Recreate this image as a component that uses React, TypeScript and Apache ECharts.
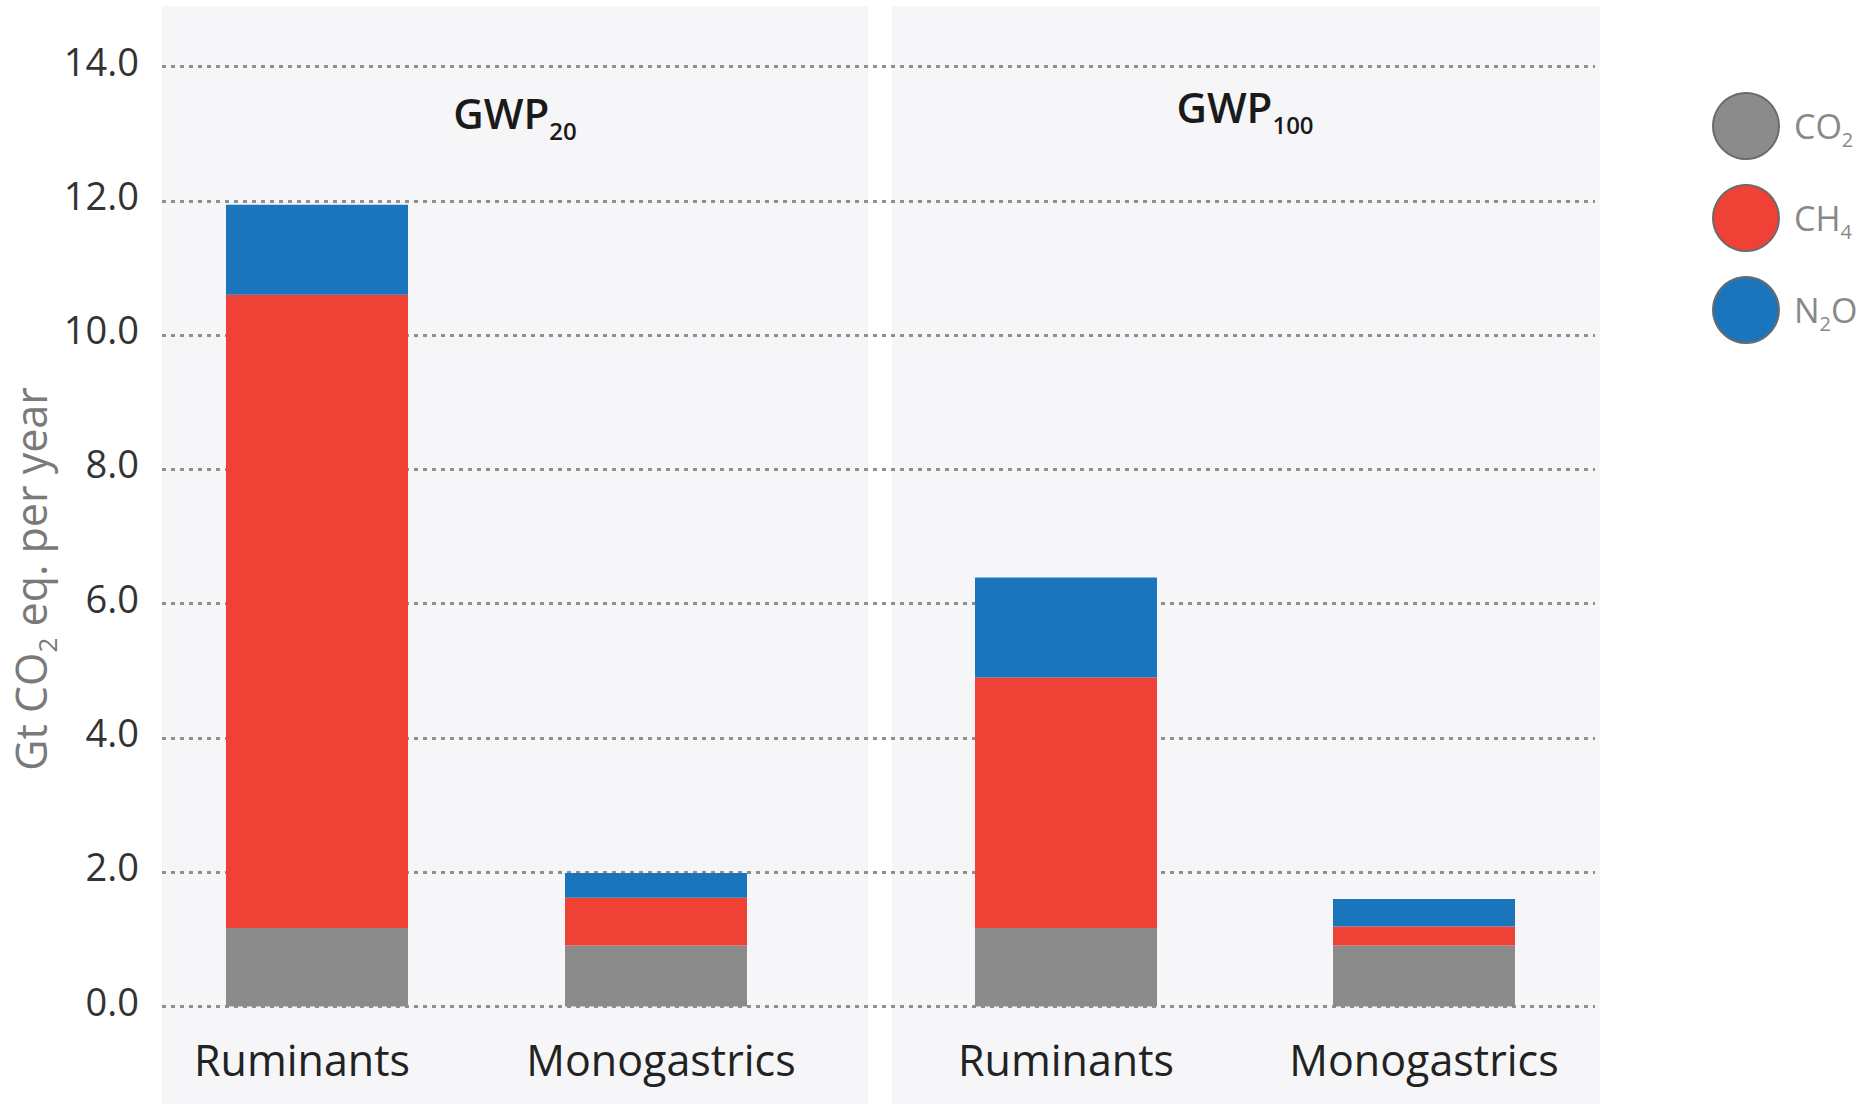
import React, { useEffect, useRef } from "react";
import * as echarts from "echarts";

const categories = ["Ruminants", "Monogastrics"];
const gasNames = ["CO2", "CH4", "N2O"];
const gasColors = ["#8a8b8a", "#ef4136", "#1b75bc"];

// GWP20 panel
const co2Gwp20 = [1.17, 0.91];
const ch4Gwp20 = [9.43, 0.71];
const n2oGwp20 = [1.34, 0.37];
// GWP100 panel
const co2Gwp100 = [1.17, 0.91];
const ch4Gwp100 = [3.73, 0.28];
const n2oGwp100 = [1.49, 0.41];

const yTickLabels = ["0.0", "2.0", "4.0", "6.0", "8.0", "10.0", "12.0", "14.0"];
const yMin = 0;
const yMax = 14;
const yStep = 2;

const FONT = "'Open Sans', 'Noto Sans', sans-serif";

const legendRich: Record<string, string> = {
  CO2: "{f|CO}{s|2}",
  CH4: "{f|CH}{s|4}",
  N2O: "{f|N}{s|2}{t|O}",
};

export default function App() {
  const ref = useRef<HTMLDivElement>(null);

  useEffect(() => {
    document.body.style.margin = "0";
    if (!ref.current) return;
    const chart = echarts.init(ref.current, undefined, { renderer: "svg" });

    const gridTop = 66.5;
    const gridHeight = 940;

    const seriesSets = [
      { stack: "g20", idx: 0, data: [co2Gwp20, ch4Gwp20, n2oGwp20] },
      { stack: "g100", idx: 1, data: [co2Gwp100, ch4Gwp100, n2oGwp100] },
    ];
    const series: any[] = [];
    seriesSets.forEach((set) => {
      set.data.forEach((vals, gi) => {
        series.push({
          type: "bar",
          name: gasNames[gi],
          stack: set.stack,
          xAxisIndex: set.idx,
          yAxisIndex: set.idx,
          barWidth: 182,
          data: vals,
          itemStyle: { color: gasColors[gi] },
          emphasis: { disabled: true },
          z: 3,
        });
      });
    });

    const catAxis = (gridIndex: number, pads: number[][]) => ({
      type: "category",
      gridIndex,
      data: categories.map((c, i) => ({ value: c, textStyle: { padding: pads[i] } })),
      axisLine: { show: false },
      axisTick: { show: false },
      axisLabel: {
        interval: 0,
        fontSize: 43,
        color: "#222222",
        fontFamily: FONT,
        margin: 31,
      },
    });

    const option: any = {
      animation: false,
      backgroundColor: "#ffffff",
      grid: [
        { left: 147.5, width: 678, top: gridTop, height: gridHeight },
        { left: 887, width: 716, top: gridTop, height: gridHeight },
        { left: 162, width: 1433, top: gridTop, height: gridHeight },
      ],
      xAxis: [
        catAxis(0, [[0, 30, 0, 0], [0, 0, 0, 10]]),
        catAxis(1, [[0, 0, 0, 0], [0, 0, 0, 0]]),
        { type: "value", gridIndex: 2, show: false, min: 0, max: 1 },
      ],
      yAxis: [
        { type: "value", gridIndex: 0, min: yMin, max: yMax, show: false },
        { type: "value", gridIndex: 1, min: yMin, max: yMax, show: false },
        {
          type: "value",
          gridIndex: 2,
          min: yMin,
          max: yMax,
          interval: yStep,
          axisLine: { show: false },
          axisTick: { show: false },
          axisLabel: {
            fontSize: 38,
            color: "#333333",
            fontFamily: FONT,
            margin: 23,
            verticalAlign: "bottom",
            lineHeight: 12,
            formatter: (v: number) => yTickLabels[Math.round((v - yMin) / yStep)] ?? "",
          },
          splitLine: {
            show: true,
            lineStyle: { color: "#8f8f8f", width: 3, type: [4, 5] },
          },
        },
      ],
      legend: {
        data: gasNames,
        orient: "vertical",
        left: 1712,
        top: 92,
        padding: 0,
        itemGap: 24,
        itemWidth: 66,
        itemHeight: 66,
        icon: "circle",
        selectedMode: false,
        itemStyle: { borderColor: "#6b6b6b", borderWidth: 2 },
        formatter: (name: string) => legendRich[name] ?? name,
        textStyle: {
          fontFamily: FONT,
          color: "#888888",
          rich: {
            f: { fontSize: 34, color: "#888888", lineHeight: 46, fontFamily: FONT, padding: [0, 0, 0, 10] },
            t: { fontSize: 34, color: "#888888", lineHeight: 46, fontFamily: FONT },
            s: { fontSize: 20, color: "#888888", lineHeight: 16, verticalAlign: "bottom", fontFamily: FONT },
          },
        },
      },
      graphic: [
        {
          type: "rect",
          z: -10,
          silent: true,
          shape: { x: 162, y: 6, width: 706, height: 1098 },
          style: { fill: "#f6f6f8" },
        },
        {
          type: "rect",
          z: -10,
          silent: true,
          shape: { x: 892, y: 6, width: 708, height: 1098 },
          style: { fill: "#f6f6f8" },
        },
        {
          type: "text",
          z: 10,
          x: 515,
          y: 112,
          style: {
            text: "{m|GWP}{s|20}",
            align: "center",
            verticalAlign: "middle",
            rich: {
              m: { fontSize: 42, fontWeight: 600, fill: "#1a1a1a", lineHeight: 60, fontFamily: FONT },
              s: { fontSize: 24, fontWeight: 600, fill: "#1a1a1a", lineHeight: 20, verticalAlign: "bottom", fontFamily: FONT },
            },
          },
        },
        {
          type: "text",
          z: 10,
          x: 1245,
          y: 106,
          style: {
            text: "{m|GWP}{s|100}",
            align: "center",
            verticalAlign: "middle",
            rich: {
              m: { fontSize: 42, fontWeight: 600, fill: "#1a1a1a", lineHeight: 60, fontFamily: FONT },
              s: { fontSize: 24, fontWeight: 600, fill: "#1a1a1a", lineHeight: 20, verticalAlign: "bottom", fontFamily: FONT },
            },
          },
        },
        {
          type: "text",
          z: 10,
          x: 30,
          y: 579,
          rotation: Math.PI / 2,
          style: {
            text: "{m|Gt CO}{s|2}{m| eq. per year}",
            align: "center",
            verticalAlign: "middle",
            rich: {
              m: { fontSize: 43, fill: "#7a7a7a", lineHeight: 60, fontFamily: FONT },
              s: { fontSize: 26, fill: "#7a7a7a", lineHeight: 20, verticalAlign: "bottom", fontFamily: FONT },
            },
          },
        },
      ],
      series,
    };

    chart.setOption(option);
    return () => {
      chart.dispose();
    };
  }, []);

  return (
    <div
      ref={ref}
      style={{ position: "absolute", left: 0, top: 0, width: "1865px", height: "1104px" }}
    />
  );
}
